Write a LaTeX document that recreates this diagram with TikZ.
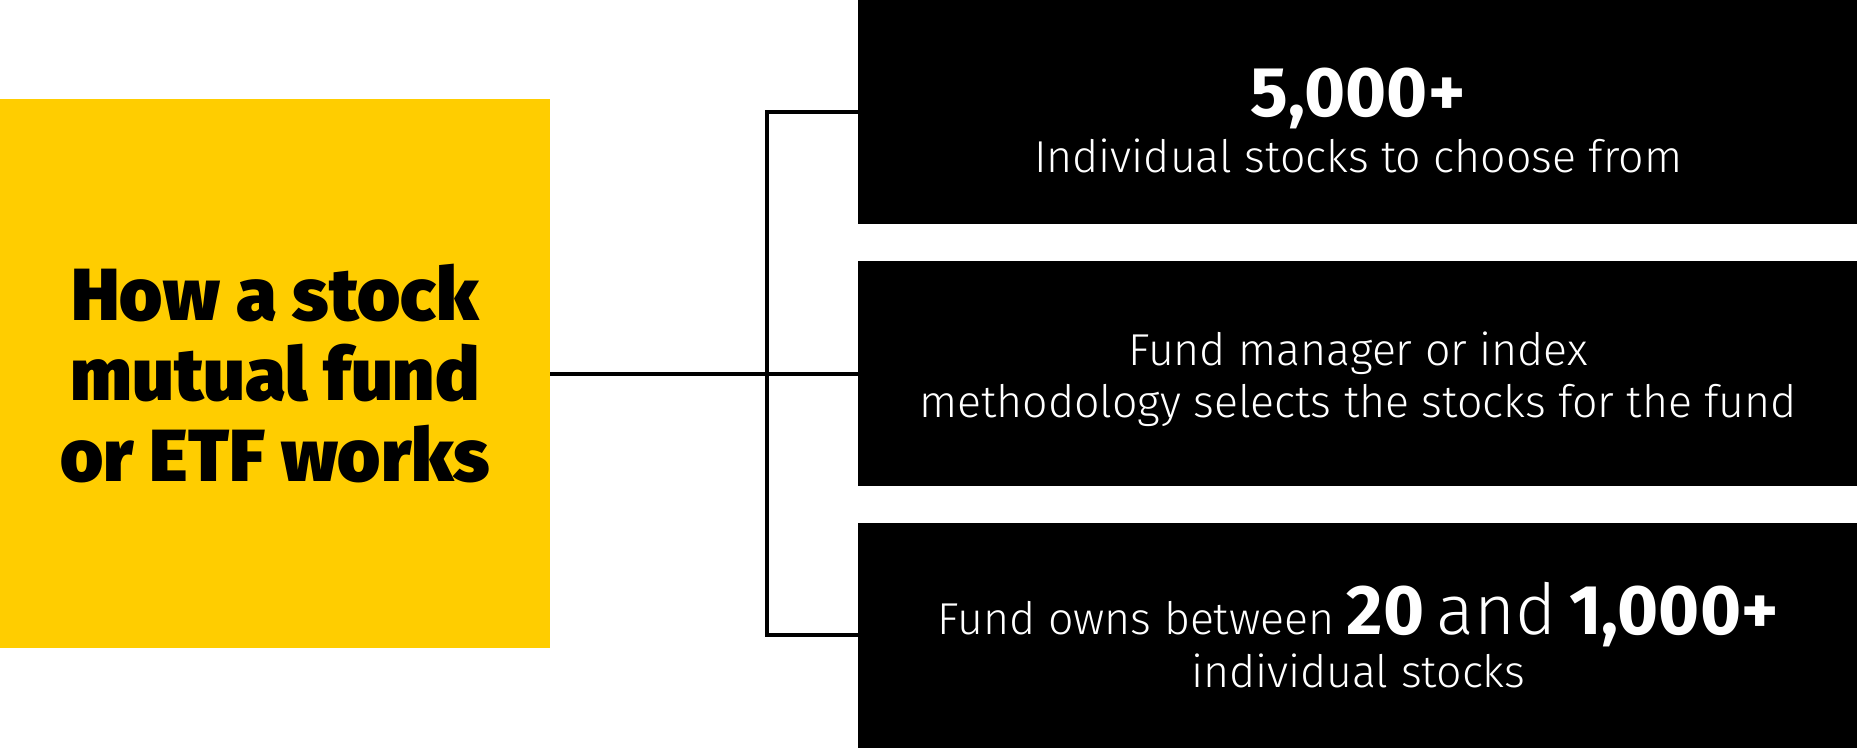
\documentclass[tikz,border=0pt]{standalone}
\usepackage{fontspec}
\setmainfont{Fira Sans Light}[BoldFont=Fira Sans Bold]
\newfontfamily\heavyfont{Fira Sans Black}
\usetikzlibrary{positioning}
\definecolor{fundyellow}{RGB}{255,205,0}
\newcommand{\bignum}[1]{{\fontsize{20}{20}\selectfont\bfseries #1}}
\newcommand{\bigword}[1]{{\fontsize{20}{20}\selectfont #1}}
\newcommand{\topgap}[1]{\rule{0pt}{#1}}
\tikzset{box/.style={fill=black,text=white,inner sep=0pt,outer sep=0pt,align=center,
    minimum width=9.99cm,minimum height=2.24cm,font=\fontsize{12.7}{14.8}\selectfont}}
\tikzset{title/.style={fill=fundyellow,inner sep=0pt,outer sep=0pt,align=center,
    minimum width=5.5cm,minimum height=5.49cm,font=\heavyfont\fontsize{21}{23}\selectfont}}

\begin{document}
\begin{tikzpicture}[x=0.01cm,y=-0.01cm,line width=1.14pt,node distance=0.37cm]
    \useasboundingbox (0,0) rectangle (1857,748);
    \node[title] (0) at (275,373.5) {How a stock\\mutual fund\\or ETF works};
    \node[box] (2) [right=3.08cm of 0] {\topgap{13pt}Fund manager or index\\methodology selects the stocks for the fund};
    \node[box] (1) [above=of 2] {\topgap{18.5pt}\bignum{5,000+}\\[1pt]Individual stocks to choose from};
    \node[box,minimum height=2.25cm] (3) [below=of 2] {Fund owns between \bignum{20} \bigword{and} \bignum{1,000+}\\[0.4pt]individual stocks};
    \draw (0) -- (2);
    \draw (1.west) -- ++(-91,0) |- (3.west);
\end{tikzpicture}
\end{document}
